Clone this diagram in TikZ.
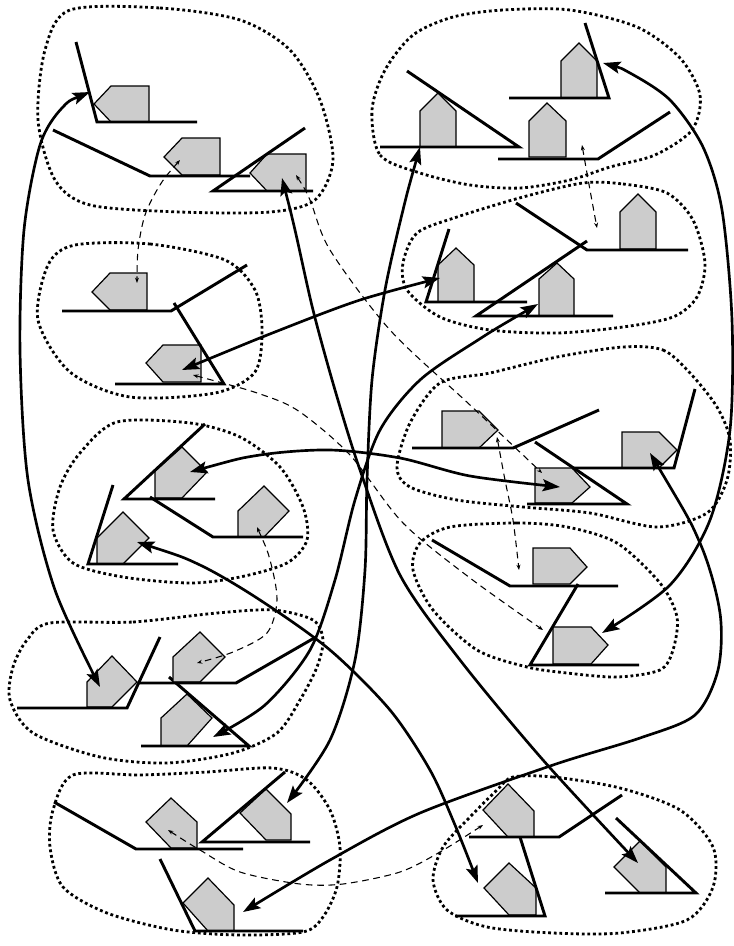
\documentclass[tikz,border=0pt]{standalone}
\usetikzlibrary{arrows.meta}
\tikzset{
  blob/.style={line width=2.1pt, dash pattern=on 2.1pt off 2.1pt},
  gnd/.style={line width=2.2pt, line join=miter},
  pent/.style={line width=0.9pt, fill=gray!40, draw=black},
  link/.style={line width=2pt, {Stealth[length=13pt,width=9pt,inset=2.5pt]}-{Stealth[length=13pt,width=9pt,inset=2.5pt]}},
  dlink/.style={line width=0.8pt, dash pattern=on 5pt off 3.5pt, {Stealth[length=4pt,width=3pt]}-{Stealth[length=4pt,width=3pt]}}
}
\begin{document}
\begin{tikzpicture}[x=0.75pt,y=-0.75pt]
\useasboundingbox (0,0) rectangle (733,946);
% ---------- blobs ----------
\draw[blob] plot[smooth cycle] coordinates {(70,10) (160,8) (240,20) (290,50) (320,100) (333,160) (315,200) (270,212) (180,212) (90,205) (55,180) (38,120) (45,50)};
\draw[blob] plot[smooth cycle] coordinates {(372,110) (380,155) (420,173) (470,185) (520,188) (570,180) (610,167) (655,155) (692,130) (700,95) (680,58) (637,27) (570,10) (503,10) (453,17) (413,35) (385,70)};
\draw[blob] plot[smooth cycle] coordinates {(75,245) (150,244) (225,260) (255,290) (262,330) (255,372) (215,393) (130,397) (70,372) (38,320) (48,265)};
\draw[blob] plot[smooth cycle] coordinates {(583,183) (623,184) (667,193) (693,220) (705,263) (697,297) (673,317) (623,327) (557,333) (490,330) (440,317) (407,290) (403,263) (417,233) (457,217) (523,197)};
\draw[blob] plot[smooth cycle] coordinates {(623,347) (663,350) (690,373) (717,407) (730,440) (727,480) (707,513) (657,527) (590,513) (523,507) (457,500) (410,487) (397,467) (410,423) (440,383) (490,373) (557,357)};
\draw[blob] plot[smooth cycle] coordinates {(450,527) (517,523) (567,527) (617,543) (660,583) (677,617) (673,650) (660,670) (617,677) (567,673) (527,667) (477,650) (433,610) (413,570) (420,543)};
\draw[blob] plot[smooth cycle] coordinates {(117,422) (190,423) (240,437) (280,467) (303,507) (307,540) (287,563) (240,577) (190,583) (123,577) (73,563) (53,530) (60,487) (80,453)};
\draw[blob] plot[smooth cycle] coordinates {(50,623) (133,622) (217,613) (273,610) (313,620) (323,640) (317,667) (300,700) (277,733) (233,753) (167,763) (100,757) (33,733) (10,700) (13,667) (27,640)};
\draw[blob] plot[smooth cycle] coordinates {(73,775) (140,775) (207,772) (273,768) (307,780) (330,810) (340,847) (337,887) (323,917) (303,932) (240,935) (173,930) (107,913) (63,887) (50,847) (53,810)};
\draw[blob] plot[smooth cycle] coordinates {(513,777) (553,777) (620,788) (680,810) (713,847) (713,887) (687,920) (620,933) (553,933) (487,927) (447,910) (433,880) (443,847) (470,817) (497,790)};
% ---------- elements ----------
% L1
\filldraw[pent] (111,86)--(149,86)--(149,122)--(111,122)--(94,104)--cycle;
\draw[gnd] (76,42)--(97,122)--(197,122);
\filldraw[pent] (182,138)--(220,138)--(220,175)--(182,175)--(164,157)--cycle;
\draw[gnd] (53,130)--(150,176)--(250,176);
\filldraw[pent] (267,154)--(306,154)--(306,191)--(267,191)--(250,173)--cycle;
\draw[gnd] (305,128)--(213,191)--(313,191);
% TR1
\filldraw[pent] (420,147)--(420,111)--(438,93)--(456,111)--(456,147)--cycle;
\draw[gnd] (407,71)--(519,147)--(380,147);
\filldraw[pent] (561,98)--(561,61)--(579,43)--(597,61)--(597,98)--cycle;
\draw[gnd] (585,23)--(609,98)--(509,98);
\filldraw[pent] (529,157)--(529,121)--(547,103)--(566,121)--(566,157)--cycle;
\draw[gnd] (498,159)--(598,159)--(670,112);
% L2
\filldraw[pent] (110,273)--(147,273)--(147,310)--(110,310)--(92,292)--cycle;
\draw[gnd] (62,311)--(171,311)--(247,265);
\filldraw[pent] (163,345)--(201,345)--(201,382)--(163,382)--(146,363)--cycle;
\draw[gnd] (174,303)--(224,384)--(115,384);
% TR2
\filldraw[pent] (438,302)--(438,265)--(456,248)--(474,265)--(474,302)--cycle;
\draw[gnd] (449,229)--(426,302)--(527,302);
\filldraw[pent] (620,249)--(620,212)--(638,194)--(656,212)--(656,249)--cycle;
\draw[gnd] (516,203)--(587,250)--(688,250);
\filldraw[pent] (539,316)--(539,279)--(557,263)--(574,279)--(574,316)--cycle;
\draw[gnd] (587,241)--(476,316)--(613,316);
% R3
\filldraw[pent] (442,411)--(479,411)--(498,430)--(479,448)--(442,448)--cycle;
\draw[gnd] (412,448)--(513,448)--(599,410);
\filldraw[pent] (535,468)--(572,468)--(590,487)--(572,503)--(535,503)--cycle;
\draw[gnd] (535,442)--(627,504)--(527,504);
\filldraw[pent] (622,432)--(659,432)--(677,450)--(659,468)--(622,468)--cycle;
\draw[gnd] (572,468)--(674,468)--(695,389);
% R4
\filldraw[pent] (533,548)--(570,548)--(587,567)--(570,584)--(533,584)--cycle;
\draw[gnd] (432,540)--(510,586)--(618,586);
\filldraw[pent] (553,627)--(591,627)--(608,645)--(591,664)--(553,664)--cycle;
\draw[gnd] (578,584)--(530,665)--(639,665);
% L3
\filldraw[pent] (155,471)--(182,447)--(207,472)--(182,498)--(155,498)--cycle;
\draw[gnd] (205,424)--(124,499)--(215,499);
\filldraw[pent] (97,538)--(123,512)--(149,538)--(123,564)--(97,564)--cycle;
\draw[gnd] (113,485)--(88,564)--(178,564);
\filldraw[pent] (238,511)--(264,486)--(289,511)--(264,537)--(238,537)--cycle;
\draw[gnd] (150,497)--(213,537)--(303,537);
% L4
\filldraw[pent] (87,682)--(112,656)--(137,682)--(112,707)--(87,707)--cycle;
\draw[gnd] (17,708)--(127,708)--(160,637);
\filldraw[pent] (161,718)--(187,694)--(212,718)--(187,746)--(161,746)--cycle;
\draw[gnd] (169,677)--(249,746)--(141,746);
\filldraw[pent] (173,657)--(200,632)--(225,657)--(200,682)--(173,682)--cycle;
\draw[gnd] (138,683)--(236,683)--(316,637);
% L5
\filldraw[pent] (146,822)--(171,798)--(197,822)--(197,848)--(171,848)--cycle;
\draw[gnd] (54,802)--(136,849)--(243,849);
\filldraw[pent] (240,813)--(266,789)--(291,814)--(291,840)--(266,840)--cycle;
\draw[gnd] (285,772)--(202,842)--(310,842);
\filldraw[pent] (183,903)--(208,878)--(234,905)--(234,931)--(208,931)--cycle;
\draw[gnd] (160,859)--(195,931)--(303,931);
% R5
\filldraw[pent] (483,810)--(508,784)--(534,811)--(534,837)--(508,837)--cycle;
\draw[gnd] (469,837)--(559,837)--(622,795);
\filldraw[pent] (484,888)--(509,863)--(536,888)--(536,915)--(509,915)--cycle;
\draw[gnd] (520,837)--(545,916)--(455,916);
\filldraw[pent] (614,867)--(640,841)--(666,867)--(666,893)--(640,893)--cycle;
\draw[gnd] (616,818)--(696,893)--(605,893);
% ---------- endpoints ----------
\coordinate (d1s) at (180,160); \coordinate (d1e) at (137,283);
\coordinate (d2s) at (296,175); \coordinate (d2e) at (542,473);
\coordinate (d3s) at (193,375); \coordinate (d3e) at (543,630);
\coordinate (d4s) at (497,437); \coordinate (d4e) at (519,570);
\coordinate (d5s) at (582,145); \coordinate (d5e) at (597,228);
\coordinate (d6s) at (257,527); \coordinate (d6e) at (197,663);
\coordinate (d7s) at (168,830); \coordinate (d7e) at (483,825);
\coordinate (a1s) at (90,92);   \coordinate (a1e) at (100,687);
\coordinate (a2s) at (282,178); \coordinate (a2e) at (638,863);
\coordinate (a3s) at (603,63);  \coordinate (a3e) at (602,633);
\coordinate (a4s) at (420,147); \coordinate (a4e) at (287,803);
\coordinate (a5s) at (182,370); \coordinate (a5e) at (440,278);
\coordinate (a6s) at (538,304); \coordinate (a6e) at (213,737);
\coordinate (a7s) at (190,472); \coordinate (a7e) at (560,487);
\coordinate (a8s) at (137,542); \coordinate (a8e) at (478,883);
\coordinate (a9s) at (650,453); \coordinate (a9e) at (243,912);
% ---------- dashed links ----------
\draw[dlink] plot[smooth] coordinates {(d1s) (160,185) (145,215) (138,250) (d1e)};
\draw[dlink] plot[smooth] coordinates {(d2s) (310,200) (330,250) (390,330) (470,405) (d2e)};
\draw[dlink] plot[smooth] coordinates {(d3s) (263,395) (300,412) (350,455) (403,523) (470,578) (d3e)};
\draw[dlink] plot[smooth] coordinates {(d4s) (505,480) (513,520) (d4e)};
\draw[dlink] plot[smooth] coordinates {(d5s) (590,190) (d5e)};
\draw[dlink] plot[smooth] coordinates {(d6s) (270,560) (277,600) (267,633) (233,652) (d6e)};
\draw[dlink] plot[smooth] coordinates {(d7s) (200,850) (240,872) (300,884) (343,884) (400,872) (440,852) (d7e)};
% ---------- thick links ----------
\draw[link] plot[smooth] coordinates {(a1s) (62,108) (40,145) (24,230) (20,350) (28,480) (55,590) (a1e)};
\draw[link] plot[smooth] coordinates {(a2s) (295,230) (313,310) (335,390) (360,470) (400,575) (460,660) (543,760) (a2e)};
\draw[link] plot[smooth] coordinates {(a3s) (630,73) (670,100) (703,147) (722,210) (732,320) (730,430) (710,520) (670,585) (a3e)};
\draw[link] plot[smooth] coordinates {(a4s) (403,210) (385,290) (372,380) (367,480) (365,570) (355,660) (330,740) (a4e)};
\draw[link] plot[smooth] coordinates {(a5s) (280,330) (360,300) (a5e)};
\draw[link] plot[smooth] coordinates {(a6s) (478,340) (420,380) (380,430) (355,500) (335,580) (310,650) (265,705) (a6e)};
\draw[link] plot[smooth] coordinates {(a7s) (260,455) (330,450) (400,458) (470,476) (a7e)};
\draw[link] plot[smooth] coordinates {(a8s) (200,565) (260,600) (330,650) (390,710) (430,770) (455,825) (a8e)};
\draw[link] plot[smooth] coordinates {(a9s) (700,543) (720,613) (718,670) (695,715) (640,738) (553,765) (420,813) (330,860) (a9e)};
\end{tikzpicture}
\end{document}
